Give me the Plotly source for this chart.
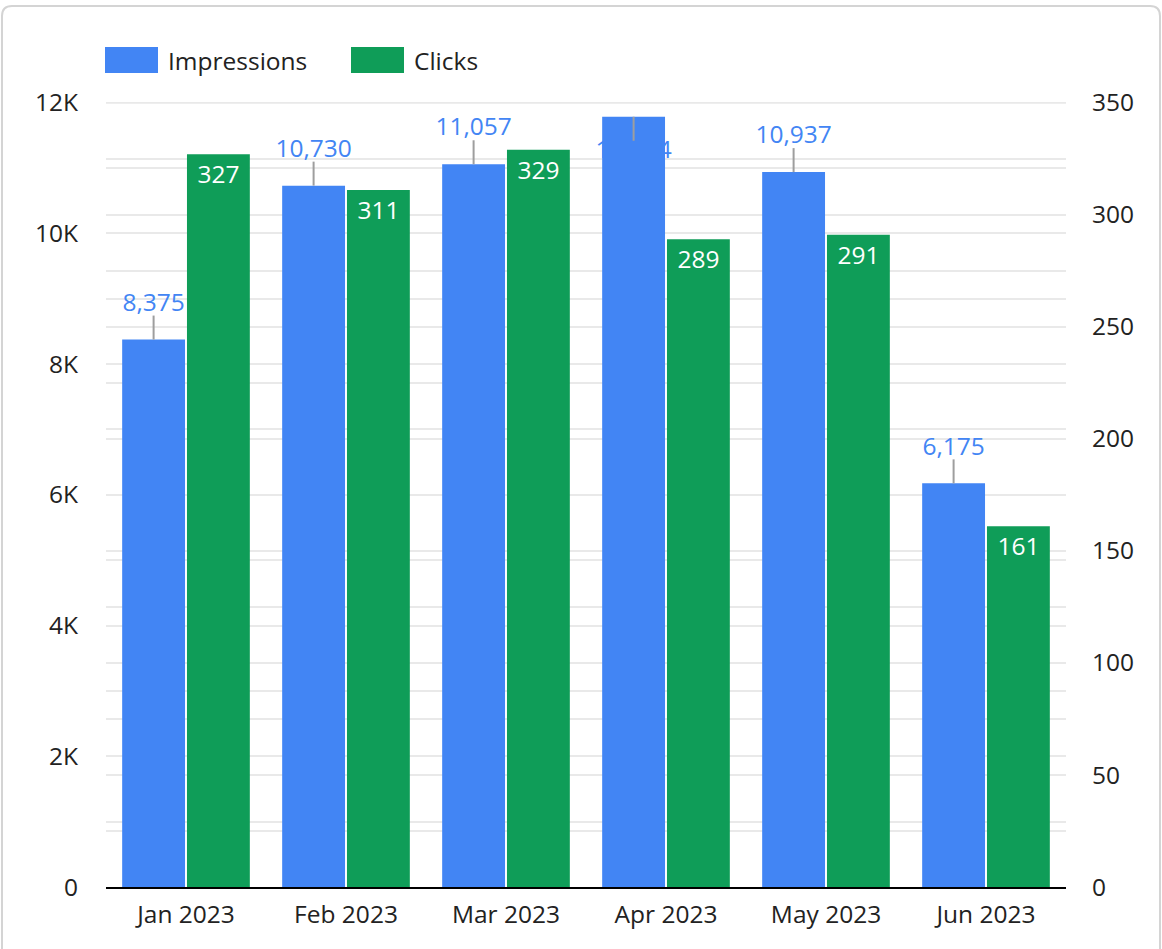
import plotly.graph_objects as go

# ---------------- data ----------------
months = ["Jan 2023", "Feb 2023", "Mar 2023", "Apr 2023", "May 2023", "Jun 2023"]
impressions = [8375, 10730, 11057, 11784, 10937, 6175]
clicks = [327, 311, 329, 289, 291, 161]
left_tickvals = [0, 2000, 4000, 6000, 8000, 10000, 12000]
left_ticktext = ["0", "2K", "4K", "6K", "8K", "10K", "12K"]
right_tickvals = [0, 50, 100, 150, 200, 250, 300, 350]
series_names = ["Impressions", "Clicks"]

# ---------------- style ----------------
BLUE = "#4285F4"
GREEN = "#0F9D58"
TXT = "#222222"
GRID = "#e9e9e9"
FONT = "Open Sans"
FS = 24.5
W, H = 1162, 949
L, R, T, B = 106, 96, 102, 62
PW, PH = W - L - R, H - T - B
Y1MAX, Y2MAX = 12000, 350
PADFRAC = 1.0008
BARGAP = 0.19

xpos = list(range(len(months)))


def px(x):
    return (x - L) / PW


def py(y):
    return (H - B - y) / PH


fig = go.Figure()

# label offsets (pixels -> data units)
LABEL_OFF = 35
LEADER = 24
dy = LABEL_OFF / PH * Y1MAX
bar_off = (1 - BARGAP) / 4
lab_x, lab_y, lead_dir = [], [], []
for i, v in zip(xpos, impressions):
    lab_x.append(i - bar_off)
    if v + dy * 1.3 > Y1MAX:
        lab_y.append(v - dy)
        lead_dir.append(-1)
    else:
        lab_y.append(v + dy)
        lead_dir.append(1)

# value labels for impressions (lowest subplot, so bars may cover them)
fig.add_trace(go.Scatter(
    x=lab_x, y=lab_y, mode="text",
    text=[f"{v:,}" for v in impressions],
    textposition="middle center",
    textfont=dict(family=FONT, size=FS, color=BLUE),
    showlegend=False, hoverinfo="skip", xaxis="x", yaxis="y",
))

fig.add_trace(go.Bar(
    x=xpos, y=impressions, name=series_names[0], marker_color=BLUE,
    offsetgroup="1", yaxis="y2", showlegend=False,
    marker_line_width=0,
))
fig.add_trace(go.Bar(
    x=xpos, y=clicks, name=series_names[1], marker_color=GREEN,
    offsetgroup="2", yaxis="y3",
    text=[str(v) for v in clicks], textposition="inside",
    insidetextanchor="end", textangle=0,
    textfont=dict(family=FONT, size=FS, color="white"),
    showlegend=False, marker_line_width=0,
))

shapes = []
# top gridline (plotly omits the one sitting on the plot edge)
shapes.append(dict(type="line", xref="paper", yref="y", x0=0, x1=1,
                   y0=left_tickvals[-1], y1=left_tickvals[-1],
                   line=dict(color=GRID, width=2), layer="below"))
for xi, v, d in zip(lab_x, impressions, lead_dir):
    shapes.append(dict(
        type="line", xref="x", yref="y", x0=xi, x1=xi,
        ysizemode="pixel", yanchor=v, y0=0, y1=d * LEADER,
        line=dict(color="#9e9e9e", width=2), layer="above",
    ))

# legend (manual, large swatches)
legend_items = [(series_names[0], BLUE, 105), (series_names[1], GREEN, 351)]
annotations = []
for name, col, x0 in legend_items:
    shapes.append(dict(
        type="rect", xref="paper", yref="paper",
        x0=px(x0), x1=px(x0 + 53), y0=py(73), y1=py(47),
        fillcolor=col, line=dict(width=0),
    ))
    annotations.append(dict(
        xref="paper", yref="paper", x=px(x0 + 61), y=py(60),
        xanchor="left", yanchor="middle", text=name, showarrow=False,
        font=dict(family=FONT, size=FS, color=TXT),
    ))

# card border
cl, ct, cr, cb, rr = 2, 6, 1160, 1000, 10
path = (f"M {px(cl)} {py(cb)} L {px(cl)} {py(ct + rr)} "
        f"Q {px(cl)} {py(ct)} {px(cl + rr)} {py(ct)} "
        f"L {px(cr - rr)} {py(ct)} "
        f"Q {px(cr)} {py(ct)} {px(cr)} {py(ct + rr)} "
        f"L {px(cr)} {py(cb)}")
shapes.append(dict(type="path", xref="paper", yref="paper", path=path,
                   line=dict(color="#d4d4d4", width=2), layer="below"))

fig.update_layout(
    width=W, height=H,
    margin=dict(l=L, r=R, t=T, b=B),
    paper_bgcolor="white", plot_bgcolor="white",
    barmode="group", bargap=BARGAP, bargroupgap=0.03,
    font=dict(family=FONT, size=FS, color=TXT),
    showlegend=False,
    shapes=shapes, annotations=annotations,
    xaxis=dict(
        tickmode="array", tickvals=xpos, ticktext=months,
        showline=True, linecolor="black", linewidth=2,
        showgrid=False, zeroline=False,
        ticks="outside", ticklen=5, tickcolor="rgba(0,0,0,0)",
        tickfont=dict(family=FONT, size=FS, color=TXT),
        range=[-0.5, len(months) - 0.5],
    ),
    yaxis=dict(
        range=[0, Y1MAX * PADFRAC], tickmode="array", tickvals=left_tickvals,
        ticktext=left_ticktext, showgrid=True, gridcolor=GRID, gridwidth=2,
        zeroline=False, ticks="outside", ticklen=22, tickcolor="rgba(0,0,0,0)",
        tickfont=dict(family=FONT, size=FS, color=TXT),
        minor=dict(tickmode="linear", tick0=0, dtick=1000, showgrid=True,
                   gridcolor=GRID, gridwidth=2),
    ),
    yaxis2=dict(
        range=[0, Y1MAX * PADFRAC], overlaying="y", visible=False,
        showgrid=False, zeroline=False,
    ),
    yaxis3=dict(
        range=[0, Y2MAX * PADFRAC], overlaying="y", side="right",
        tickmode="array", tickvals=right_tickvals,
        showgrid=True, gridcolor=GRID, gridwidth=2, zeroline=False,
        ticks="outside", ticklen=20, tickcolor="rgba(0,0,0,0)",
        tickfont=dict(family=FONT, size=FS, color=TXT),
        minor=dict(tickmode="linear", tick0=0, dtick=25, showgrid=True,
                   gridcolor=GRID, gridwidth=2),
    ),
)

fig.write_html("out.html", config={"displayModeBar": False},
               post_script="document.body.style.margin='0px';")
